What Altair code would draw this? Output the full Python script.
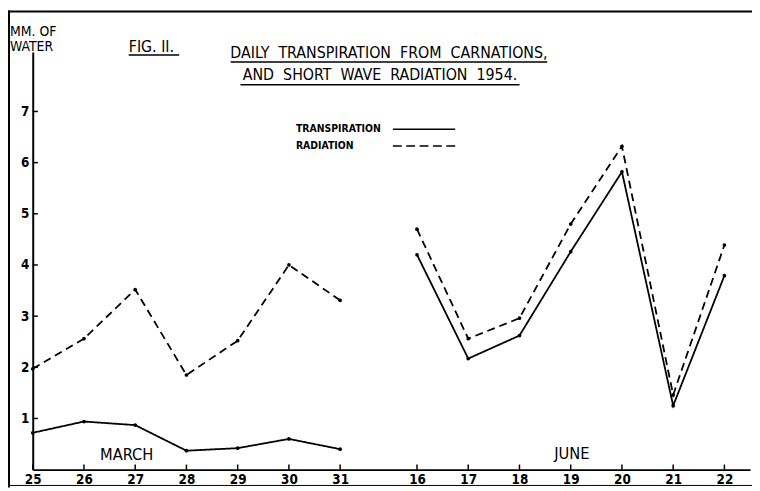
import altair as alt
import pandas as pd

FONT = "DejaVu Sans Condensed"

# ---- data ----
march_days = [25, 26, 27, 28, 29, 30, 31]
june_days = [16, 17, 18, 19, 20, 21, 22]
march_pos = [0, 1, 2, 3, 4, 5, 6]
june_pos = [7.5, 8.5, 9.5, 10.5, 11.5, 12.5, 13.5]
march_transpiration = [0.72, 0.94, 0.87, 0.37, 0.42, 0.60, 0.40]
march_radiation = [1.97, 2.56, 3.52, 1.85, 2.52, 4.00, 3.31]
june_transpiration = [4.20, 2.17, 2.62, 4.26, 5.82, 1.25, 3.79]
june_radiation = [4.70, 2.56, 2.96, 4.80, 6.32, 1.46, 4.39]
y_tick_values = [1, 2, 3, 4, 5, 6, 7]
x_tick_values = march_pos + june_pos

rows = []
for period, pos, days, tr, rad in [
    ("March", march_pos, march_days, march_transpiration, march_radiation),
    ("June", june_pos, june_days, june_transpiration, june_radiation),
]:
    for p, d, t, r in zip(pos, days, tr, rad):
        rows.append({"pos": p, "day": d, "value": t, "series": "Transpiration", "period": period})
        rows.append({"pos": p, "day": d, "value": r, "series": "Radiation", "period": period})
df = pd.DataFrame(rows)

xscale = alt.Scale(domain=[0, 14], nice=False, zero=False)
yscale = alt.Scale(domain=[0, 8.16], nice=False)

x_axis = alt.Axis(
    values=x_tick_values,
    labelExpr="datum.value < 7 ? '' + (datum.value + 25) : '' + (datum.value + 8.5)",
    ticks=False, grid=False, title=None, domainWidth=2, domainColor="black",
    labelFont=FONT, labelFontSize=13.5, labelFontWeight="bold", labelColor="black",
    labelPadding=3, labelFlush=False, labelOverlap=False,
)
y_axis = alt.Axis(
    values=y_tick_values, format="d",
    ticks=False, grid=False, title=None, domainWidth=2, domainColor="black",
    labelFont=FONT, labelFontSize=13.5, labelFontWeight="bold", labelColor="black",
    labelPadding=4, labelFlush=False,
)

base = alt.Chart(df)
lines = base.mark_line(color="black", strokeWidth=1.8).encode(
    x=alt.X("pos:Q", scale=xscale, axis=x_axis),
    y=alt.Y("value:Q", scale=yscale, axis=y_axis),
    strokeDash=alt.StrokeDash(
        "series:N",
        scale=alt.Scale(domain=["Transpiration", "Radiation"], range=[[1, 0], [8, 5]]),
        legend=None,
    ),
    detail="period:N",
)
points = base.mark_circle(color="black", size=14, opacity=1).encode(
    x=alt.X("pos:Q", scale=xscale),
    y=alt.Y("value:Q", scale=yscale),
)

# inward ticks
xt = pd.DataFrame({"pos": x_tick_values, "y0": [0] * len(x_tick_values), "y1": [0.1] * len(x_tick_values)})
x_ticks = alt.Chart(xt).mark_rule(color="black", strokeWidth=1.5).encode(
    x=alt.X("pos:Q", scale=xscale), y=alt.Y("y0:Q", scale=yscale), y2="y1:Q"
)
yt = pd.DataFrame({"v": y_tick_values, "x0": [0] * 7, "x1": [0.1] * 7})
y_ticks = alt.Chart(yt).mark_rule(color="black", strokeWidth=1.5).encode(
    y=alt.Y("v:Q", scale=yscale), x=alt.X("x0:Q", scale=xscale), x2="x1:Q"
)

one = pd.DataFrame({"a": [0]})


def label(txt, x, y, size, weight="normal", align="left"):
    return alt.Chart(one).mark_text(
        text=txt, align=align, baseline="alphabetic", font=FONT, fontSize=size,
        fontWeight=weight, color="black",
    ).encode(x=alt.value(x), y=alt.value(y))


def hline(x1, x2, y, w=1.5, dash=None):
    kw = dict(color="black", strokeWidth=w)
    if dash:
        kw["strokeDash"] = dash
    return alt.Chart(one).mark_rule(**kw).encode(x=alt.value(x1), x2=alt.value(x2), y=alt.value(y))


def vline(x, y1, y2, w=1.5):
    return alt.Chart(one).mark_rule(color="black", strokeWidth=w).encode(
        x=alt.value(x), y=alt.value(y1), y2=alt.value(y2)
    )


deco = [
    label("MM. OF", -23, -16, 14),
    label("WATER", -23, -1, 14),
    label("FIG. II.", 97, 0, 16),
    hline(97, 148, 3),
    label("DAILY\u00a0 TRANSPIRATION\u00a0 FROM\u00a0 CARNATIONS,", 360, 6, 16, align="center"),
    hline(200, 520, 10),
    label("AND\u00a0 SHORT\u00a0 WAVE\u00a0 RADIATION\u00a0 1954.", 351, 28, 16, align="center"),
    hline(210, 492, 33),
    label("TRANSPIRATION", 266, 81, 10.5, weight="bold"),
    hline(364, 427, 78),
    label("RADIATION", 266, 98, 10.5, weight="bold"),
    hline(364, 427, 95, dash=[9, 4.5]),
    label("MARCH", 95, 412, 16.5, align="center"),
    label("JUNE", 545, 411, 16.5, align="center"),
    hline(-25, 727, -41, w=2),
    vline(-24, -42, 440, w=2),
    hline(-25, 727, 438, w=1),
]

chart = alt.layer(lines, points, x_ticks, y_ticks, *deco).properties(
    width=725,
    height=422,
    padding={"left": 25, "top": 42, "right": 2, "bottom": 19},
    autosize=alt.AutoSizeParams(type="none"),
    background="white",
).configure_view(stroke=None)

chart.save("out.html", embed_options={"renderer": "svg", "actions": False})
